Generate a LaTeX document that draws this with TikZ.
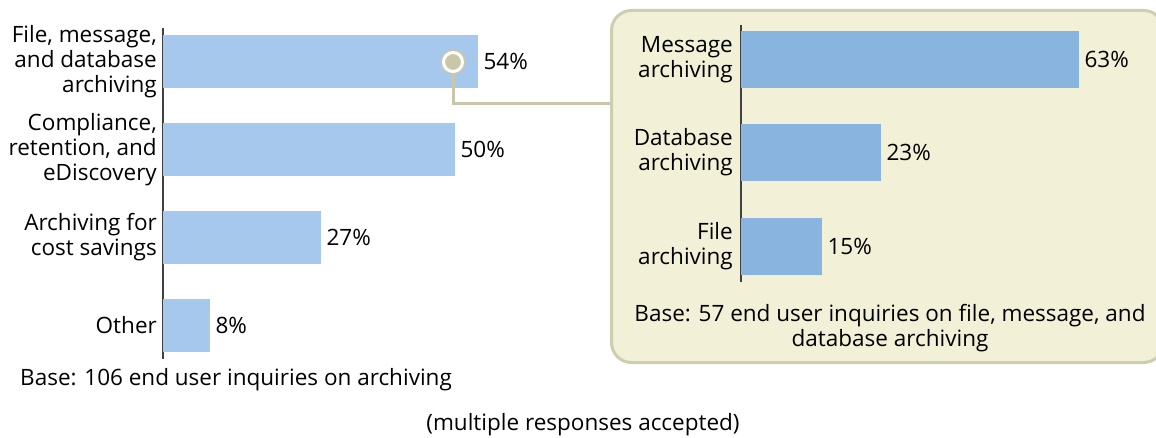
\documentclass[tikz,border=0pt]{standalone}
\usepackage{fontspec}
\setmainfont{Open Sans}
\definecolor{barlight}{RGB}{166,200,236}
\definecolor{bardark}{RGB}{138,180,224}
\definecolor{panelfill}{RGB}{242,240,214}
\definecolor{paneledge}{RGB}{205,205,175}
\definecolor{knob}{RGB}{200,200,168}
\begin{document}
\begin{tikzpicture}[
		x=1pt, y=-1pt,
		every node/.style={font=\fontsize{22.5}{25}\selectfont},
		lab/.style={anchor=east, align=right, inner sep=0pt},
		pct/.style={anchor=west, inner sep=0pt},
		lbar/.style={anchor=west, fill=barlight, inner sep=0pt, minimum height=53pt},
		rbar/.style={anchor=west, fill=bardark, inner sep=0pt, minimum height=57pt},
		panel/.style={draw=paneledge, line width=3pt, fill=panelfill, rounded corners=20pt, inner sep=0pt},
		ring/.style={circle, inner sep=0pt, minimum size=19pt, fill=knob, draw=knob, line width=1.5pt, double=white, double distance=3pt},
		link/.style={draw=knob, line width=3pt}
	]
	\useasboundingbox (0,0) rectangle (1156,438);

	% zoom panel
	\node[panel, anchor=north west, minimum width=552pt, minimum height=352pt] (box) at (610,9) {};

	% left chart
	\draw[line width=1.2pt, black!75] (163,28) -- (163,359);
	\node[lbar, minimum width=315pt] (b1) at (163,61.5) {};
	\node[lbar, minimum width=292pt] (b2) at (163,149.5) {};
	\node[lbar, minimum width=158pt] (b3) at (163,237.5) {};
	\node[lbar, minimum width=47pt] (b4) at (163,325.5) {};
	\node[lab] (l1) at ([xshift=-6pt]b1.west) {File, message,\\and database\\archiving};
	\node[lab] (l2) at ([xshift=-6pt]b2.west) {Compliance,\\retention, and\\eDiscovery};
	\node[lab] (l3) at ([xshift=-6pt]b3.west) {Archiving for\\cost savings};
	\node[lab] (l4) at ([xshift=-6pt]b4.west) {Other};
	\node[pct] (p1) at ([xshift=5pt]b1.east) {54\%};
	\node[pct] (p2) at ([xshift=5pt]b2.east) {50\%};
	\node[pct] (p3) at ([xshift=5pt]b3.east) {27\%};
	\node[pct] (p4) at ([xshift=5pt]b4.east) {8\%};
	\node[anchor=west, inner sep=0pt] (base1) at (20,380) {Base: 106 end user inquiries on archiving};

	% right chart
	\draw[line width=1.2pt, black!75] (741,25) -- (741,282);
	\node[rbar, minimum width=338pt] (r1) at (741,59.5) {};
	\node[rbar, minimum width=140pt] (r2) at (741,152.5) {};
	\node[rbar, minimum width=81pt] (r3) at (741,246.5) {};
	\node[lab] (m1) at ([xshift=-8pt]r1.west) {Message\\archiving};
	\node[lab] (m2) at ([xshift=-8pt]r2.west) {Database\\archiving};
	\node[lab] (m3) at ([xshift=-8pt]r3.west) {File\\archiving};
	\node[pct] (q1) at ([xshift=5pt]r1.east) {63\%};
	\node[pct] (q2) at ([xshift=5pt]r2.east) {23\%};
	\node[pct] (q3) at ([xshift=5pt]r3.east) {15\%};
	\node[align=center, inner sep=0pt] (base2) at (890,328.5) {Base: 57 end user inquiries on file, message, and\\database archiving};

	% connector
	\coordinate (join) at (610,104);
	\draw[link] (453,62) |- (join);
	\node[ring] (dot) at (453,62) {};

	\node[inner sep=0pt] (note) at (583,425) {(multiple responses accepted)};
\end{tikzpicture}
\end{document}
